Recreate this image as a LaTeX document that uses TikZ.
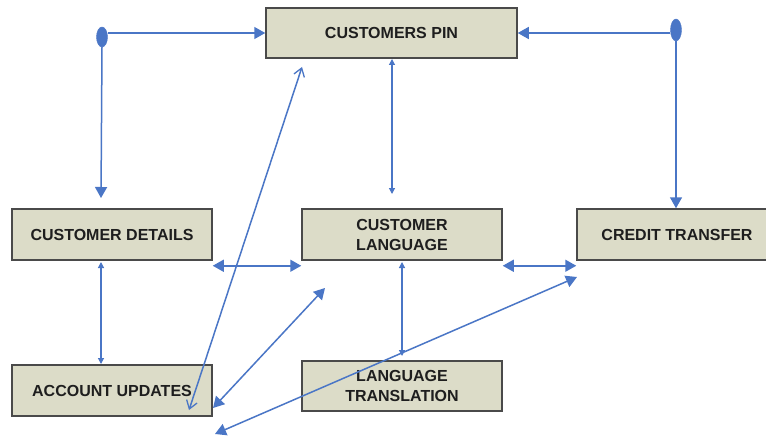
\documentclass[tikz,border=0pt]{standalone}
\usepackage{fontspec}
\setmainfont{Liberation Sans}
\usetikzlibrary{arrows.meta,shapes.geometric}
\definecolor{boxfill}{HTML}{DCDCC8}
\definecolor{boxline}{HTML}{4A4A4A}
\definecolor{arr}{HTML}{4A76C6}
\definecolor{txt}{HTML}{1E1E1E}
\tikzset{
  box/.style={draw=boxline, line width=1.5pt, fill=boxfill, minimum width=200pt, minimum height=51pt,
    inner sep=0pt, align=center, font=\fontsize{16}{20}\selectfont\bfseries, text=txt},
  conn/.style={draw=arr, line width=1.5pt},
  thin/.style={draw=arr, line width=1.2pt},
  big/.tip={Triangle[length=11pt,width=12pt]},
  small/.tip={Triangle[length=6pt,width=6pt]},
  openv/.tip={Straight Barb[length=8pt,width=11pt,line width=1.3pt]},
  dot/.style={ellipse, fill=arr, draw=arr, minimum width=11pt, minimum height=20pt, inner sep=0pt}
}
\begin{document}
\begin{tikzpicture}[x=1pt,y=-1pt]
\useasboundingbox (0,0) rectangle (766,436);
\fill[white] (0,0) rectangle (766,436);

\node[box, minimum width=251pt, minimum height=50pt] (pin) at (391.5,33) {CUSTOMERS PIN};
\node[box] (details) at (112,234.5) {CUSTOMER DETAILS};
\node[box] (lang) at (402,234.5) {CUSTOMER\\LANGUAGE};
\node[box] (credit) at (677,234.5) {CREDIT TRANSFER};
\node[box] (acct) at (112,390.5) {ACCOUNT UPDATES};
\node[box, minimum height=50pt] (trans) at (402,386) {LANGUAGE\\TRANSLATION};

\node[dot] (dotL) at (102,37) {};
\node[dot, minimum height=22pt] (dotR) at (676,30) {};

\coordinate (dtip) at (101,198);
\coordinate (pinlow) at (392,194);
\coordinate (pinup) at (392,59);
\coordinate (detlow) at (101,262);
\coordinate (acctup) at (101,364);
\coordinate (langlow) at (402,262);
\coordinate (transup) at (402,356);
\coordinate (l1a) at (302,67);
\coordinate (l1b) at (189,410);
\coordinate (l2a) at (325,288);
\coordinate (l2b) at (213,408);
\coordinate (l3a) at (577,277);
\coordinate (l3b) at (215,434);

% top connectors
\draw[conn, -big] (dotL.east |- pin.west) -- (pin.west);
\draw[conn, -big] (dotR.west |- pin.east) -- (pin.east);
\draw[conn, -big] (dotL.south) -- (dtip);
\draw[conn, -big] (dotR.south) -- (dotR.south |- credit.north);

% vertical small arrows
\draw[thin, small-small] (pinup) -- (pinlow);
\draw[thin, small-small] (detlow) -- (acctup);
\draw[thin, small-small] (langlow) -- (transup);

% horizontal double arrows
\draw[conn, big-big] ([yshift=-5pt]details.south east) -- ([yshift=-5pt]lang.south west);
\draw[conn, big-big] ([yshift=-5pt]lang.south east) -- ([yshift=-5pt]credit.south west);

% diagonals
\draw[conn, openv-openv] (l1a) -- (l1b);
\draw[conn, big-big] (l2a) -- (l2b);
\draw[conn, big-big] (l3a) -- (l3b);
\end{tikzpicture}
\end{document}
